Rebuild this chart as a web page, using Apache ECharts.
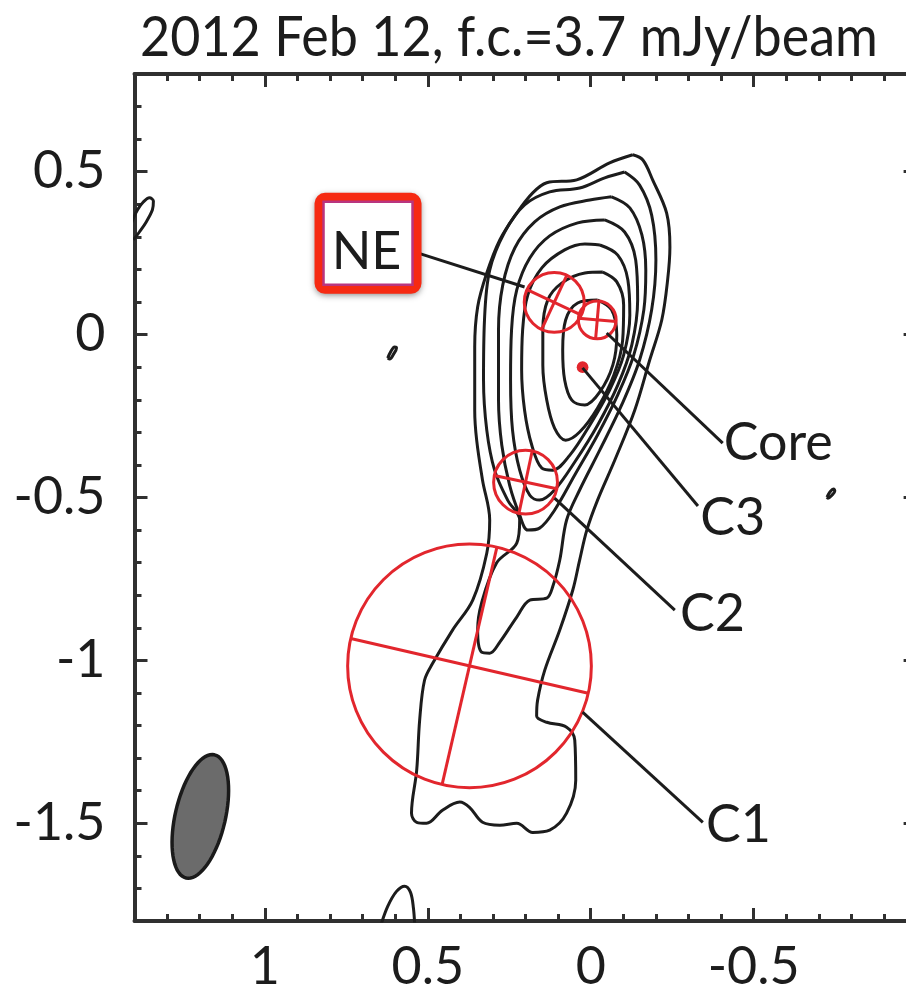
<!DOCTYPE html>
<html>
<head>
<meta charset="utf-8">
<script src="https://cdn.jsdelivr.net/npm/echarts@6/dist/echarts.min.js"></script>
<style>
html, body { margin: 0; padding: 0; background: #fff; }
#chart { width: 906px; height: 990px; }
</style>
</head>
<body>
<div id="chart"></div>
<script>
// axis ticks (relative RA / Dec offsets, mas)
var xTicks = [-1.0, -0.9, -0.8, -0.7, -0.6, -0.5, -0.4, -0.3, -0.2, -0.1, 0, 0.1, 0.2, 0.3, 0.4, 0.5, 0.6, 0.7, 0.8, 0.9, 1.0, 1.1, 1.2, 1.3, 1.4];
var xMajor = [-1.0, -0.5, 0, 0.5, 1.0];
var xLabels = [1, 0.5, 0, -0.5];
var yTicks = [-1.8, -1.7, -1.6, -1.5, -1.4, -1.3, -1.2, -1.1, -1.0, -0.9, -0.8, -0.7, -0.6, -0.5, -0.4, -0.3, -0.2, -0.1, 0, 0.1, 0.2, 0.3, 0.4, 0.5, 0.6, 0.7, 0.8];
var yMajor = [-1.5, -1.0, -0.5, 0, 0.5];
var yLabels = [0.5, 0, -0.5, -1, -1.5];

// contour levels, outermost first
var contourL1 = [[-0.129,0.552],[-0.160,0.536],[-0.190,0.475],[-0.233,0.373],[-0.243,0.269],[-0.236,0.168],[-0.218,0.045],[-0.181,-0.078],[-0.135,-0.232],[-0.074,-0.385],[-0.021,-0.508],[0.012,-0.600],[0.034,-0.692],[0.055,-0.784],[0.095,-0.907],[0.141,-1.030],[0.163,-1.122],[0.166,-1.171],[0.135,-1.190],[0.074,-1.205],[0.049,-1.245],[0.046,-1.368],[0.074,-1.469],[0.126,-1.521],[0.178,-1.528],[0.227,-1.500],[0.279,-1.506],[0.332,-1.497],[0.372,-1.451],[0.402,-1.435],[0.455,-1.460],[0.504,-1.500],[0.534,-1.497],[0.550,-1.469],[0.534,-1.337],[0.525,-1.184],[0.510,-1.061],[0.485,-1.009],[0.424,-0.907],[0.362,-0.815],[0.319,-0.671],[0.310,-0.569],[0.332,-0.447],[0.350,-0.324],[0.356,-0.232],[0.356,-0.038],[0.347,0.085],[0.319,0.189],[0.279,0.291],[0.227,0.373],[0.178,0.435],[0.135,0.466],[0.043,0.475],[-0.058,0.527],[-0.129,0.552]];
var contourL2 = [[-0.104,0.499],[-0.150,0.459],[-0.187,0.367],[-0.200,0.229],[-0.187,0.076],[-0.150,-0.078],[-0.095,-0.216],[-0.028,-0.354],[0.034,-0.477],[0.074,-0.569],[0.095,-0.692],[0.117,-0.775],[0.135,-0.809],[0.187,-0.815],[0.227,-0.867],[0.279,-0.944],[0.310,-0.978],[0.335,-0.975],[0.347,-0.907],[0.335,-0.824],[0.289,-0.701],[0.227,-0.640],[0.218,-0.569],[0.255,-0.508],[0.295,-0.416],[0.319,-0.293],[0.329,-0.139],[0.326,0.045],[0.310,0.198],[0.264,0.315],[0.203,0.398],[0.126,0.438],[0.034,0.450],[-0.043,0.481],[-0.104,0.499]];
var contourL3 = [[-0.064,0.423],[-0.120,0.389],[-0.157,0.306],[-0.169,0.198],[-0.163,0.076],[-0.132,-0.063],[-0.083,-0.185],[-0.021,-0.308],[0.049,-0.431],[0.111,-0.539],[0.157,-0.594],[0.193,-0.600],[0.218,-0.554],[0.249,-0.462],[0.273,-0.339],[0.283,-0.201],[0.283,0.014],[0.270,0.152],[0.233,0.266],[0.172,0.346],[0.095,0.392],[0.003,0.413],[-0.064,0.423]];
var contourL4 = [[-0.043,0.352],[-0.104,0.315],[-0.138,0.229],[-0.144,0.106],[-0.126,-0.032],[-0.083,-0.155],[-0.021,-0.278],[0.049,-0.391],[0.111,-0.477],[0.157,-0.508],[0.187,-0.493],[0.218,-0.416],[0.240,-0.293],[0.246,-0.139],[0.243,0.014],[0.227,0.137],[0.187,0.235],[0.126,0.303],[0.040,0.343],[-0.043,0.352]];
var contourL5 = [[-0.028,0.275],[-0.083,0.244],[-0.114,0.168],[-0.120,0.060],[-0.101,-0.063],[-0.058,-0.170],[0.003,-0.278],[0.064,-0.370],[0.117,-0.416],[0.150,-0.410],[0.181,-0.339],[0.203,-0.232],[0.212,-0.109],[0.209,0.014],[0.193,0.122],[0.150,0.205],[0.080,0.260],[0.018,0.278],[-0.028,0.275]];
var contourL6 = [[-0.037,0.192],[-0.080,0.162],[-0.101,0.091],[-0.098,-0.017],[-0.071,-0.124],[-0.021,-0.225],[0.034,-0.299],[0.077,-0.324],[0.111,-0.287],[0.135,-0.201],[0.147,-0.093],[0.147,0.014],[0.132,0.106],[0.089,0.158],[0.018,0.189],[-0.037,0.192]];
var contourL7 = [[-0.021,0.106],[-0.064,0.076],[-0.080,-0.001],[-0.068,-0.093],[-0.028,-0.176],[0.018,-0.216],[0.058,-0.201],[0.080,-0.139],[0.086,-0.047],[0.077,0.045],[0.040,0.097],[-0.021,0.106]];
var islandW = [[1.403,0.291],[1.385,0.315],[1.364,0.346],[1.345,0.383],[1.342,0.410],[1.354,0.420],[1.373,0.407],[1.391,0.383],[1.403,0.358],[1.413,0.334]];
var islandMid = [[0.623,-0.072],[0.614,-0.053],[0.602,-0.038],[0.596,-0.041],[0.605,-0.060],[0.617,-0.075],[0.623,-0.072]];
var islandE = [[-0.725,-0.499],[-0.734,-0.483],[-0.746,-0.474],[-0.749,-0.480],[-0.740,-0.493],[-0.728,-0.502],[-0.725,-0.499]];
var islandS = [[0.645,-1.816],[0.623,-1.755],[0.596,-1.709],[0.571,-1.693],[0.553,-1.712],[0.544,-1.761],[0.540,-1.816]];
var contours = [contourL1, contourL2, contourL3, contourL4, contourL5, contourL6, contourL7, islandW, islandMid, islandE, islandS];

// model-fit components: x, y, radius, position angle (deg), filled
var compNames = ['Core', 'NE', 'C3', 'C2', 'C1'];
var compX = [-0.020, 0.112, 0.025, 0.200, 0.372];
var compY = [0.045, 0.099, -0.100, -0.453, -1.017];
var compR = [0.058, 0.092, 0.018, 0.098, 0.374];
var compPA = [-5, -25, 0, -12, -13];
var compFilled = [0, 0, 1, 0, 0];

// labels and their leader lines
var labelText = ['NE', 'Core', 'C3', 'C2', 'C1'];
var leaderFrom = [[0.203, 0.146], [-0.049, 0.005], [0.025, -0.102], [0.111, -0.502], [0.025, -1.159]];
var leaderTo = [[0.522, 0.248], [-0.405, -0.333], [-0.329, -0.526], [-0.258, -0.846], [-0.344, -1.497]];
var labelAt = [[0.688, 0.254], [-0.408, -0.333], [-0.336, -0.563], [-0.274, -0.858], [-0.354, -1.506]];

// restoring beam: centre, semi-major, semi-minor, PA (deg)
var beam = [1.198, -1.479, 0.194, 0.077, -13];

var RED = '#e2262d';
var INK = '#1c1c1c';
var AXIS = '#303030';
var FONT = 'Lato';
var FS = 52;

function fmt(v) { return v === 0 ? '0' : String(v); }

function xAxisDef(pos, ticks, len, labels) {
  return {
    type: 'value', position: pos, inverse: true, min: -1.0, max: 1.4,
    axisLine: { show: len < 10, onZero: false, lineStyle: { color: AXIS, width: 4 } },
    axisTick: { show: true, inside: true, length: len, customValues: ticks, lineStyle: { color: AXIS, width: 3 } },
    axisLabel: labels ? { show: true, customValues: labels, formatter: fmt, margin: 20, fontSize: FS, fontFamily: FONT, color: INK } : { show: false },
    splitLine: { show: false }
  };
}
function yAxisDef(pos, ticks, len, labels) {
  return {
    type: 'value', position: pos, min: -1.8, max: 0.8,
    axisLine: { show: len < 10, onZero: false, lineStyle: { color: AXIS, width: 4 } },
    axisTick: { show: true, inside: true, length: len, customValues: ticks, lineStyle: { color: AXIS, width: 3 } },
    axisLabel: labels ? { show: true, customValues: labels, formatter: fmt, margin: 29, fontSize: FS, fontFamily: FONT, color: INK } : { show: false },
    splitLine: { show: false }
  };
}

var series = contours.map(function (c) {
  return {
    type: 'line', data: c, xAxisIndex: 0, yAxisIndex: 0,
    showSymbol: false, symbol: 'none', smooth: 0.35, silent: true, z: 3,
    lineStyle: { color: INK, width: 3 }
  };
});

var beamData = [beam];
series.push({
  type: 'custom', xAxisIndex: 0, yAxisIndex: 0, silent: true, z: 4,
  data: beamData,
  renderItem: function (params, api) {
    var cx = api.value(0), cy = api.value(1), a = api.value(2), b = api.value(3);
    var pa = api.value(4) * Math.PI / 180;
    var pts = [];
    for (var k = 0; k < 72; k++) {
      var t = k / 72 * 2 * Math.PI;
      var u = a * Math.cos(t), w = b * Math.sin(t);
      pts.push(api.coord([cx + u * Math.sin(pa) + w * Math.cos(pa), cy + u * Math.cos(pa) - w * Math.sin(pa)]));
    }
    return { type: 'polygon', shape: { points: pts }, style: { fill: '#6b6b6b', stroke: '#1a1a1a', lineWidth: 3.5 } };
  }
});

var compData = compX.map(function (x, i) { return [x, compY[i], compR[i], compPA[i], compFilled[i]]; });
series.push({
  type: 'custom', xAxisIndex: 0, yAxisIndex: 0, silent: true, z: 6,
  data: compData,
  renderItem: function (params, api) {
    var x = api.value(0), y = api.value(1), r = api.value(2);
    var pa = api.value(3) * Math.PI / 180, solid = api.value(4);
    var c = api.coord([x, y]);
    var sz = api.size([r, r]);
    var rad = (sz[0] + sz[1]) / 2;
    var kids = [{
      type: 'circle', shape: { cx: c[0], cy: c[1], r: rad },
      style: solid ? { fill: RED } : { fill: 'none', stroke: RED, lineWidth: 3 }
    }];
    if (!solid) {
      [[Math.sin(pa) * r, Math.cos(pa) * r], [Math.cos(pa) * r, -Math.sin(pa) * r]].forEach(function (d) {
        var p1 = api.coord([x + d[0], y + d[1]]);
        var p2 = api.coord([x - d[0], y - d[1]]);
        kids.push({ type: 'line', shape: { x1: p1[0], y1: p1[1], x2: p2[0], y2: p2[1] }, style: { stroke: RED, lineWidth: 3 } });
      });
    }
    return { type: 'group', children: kids };
  }
});

var leaderData = labelText.map(function (t, i) {
  return [leaderFrom[i][0], leaderFrom[i][1], leaderTo[i][0], leaderTo[i][1], labelAt[i][0], labelAt[i][1]];
});
series.push({
  type: 'custom', xAxisIndex: 0, yAxisIndex: 0, silent: true, z: 8,
  data: leaderData,
  renderItem: function (params, api) {
    var i = params.dataIndex;
    var p0 = api.coord([api.value(0), api.value(1)]);
    var p1 = api.coord([api.value(2), api.value(3)]);
    var lp = api.coord([api.value(4), api.value(5)]);
    var kids = [{ type: 'line', shape: { x1: p0[0], y1: p0[1], x2: p1[0], y2: p1[1] }, style: { stroke: INK, lineWidth: 3 } }];
    if (labelText[i] === 'NE') {
      kids.push({ type: 'rect', shape: { x: lp[0] - 47.5, y: lp[1] - 54.5, width: 98, height: 92, r: 6 },
        style: { fill: '#fff', stroke: '#f62a12', lineWidth: 9, shadowBlur: 6, shadowColor: 'rgba(0,0,0,0.35)', shadowOffsetY: 2 } });
      kids.push({ type: 'rect', shape: { x: lp[0] - 43, y: lp[1] - 50, width: 89, height: 83 },
        style: { fill: '#fff', stroke: '#b9357f', lineWidth: 2.5 } });
      kids.push({ type: 'text', x: lp[0], y: lp[1],
        style: { text: 'NE', font: FS + 'px ' + FONT, fill: INK, align: 'center', verticalAlign: 'middle' } });
    } else {
      kids.push({ type: 'text', x: lp[0], y: lp[1],
        style: { text: labelText[i], font: FS + 'px ' + FONT, fill: INK, align: 'left', verticalAlign: 'middle' } });
    }
    return { type: 'group', children: kids };
  }
});

var chart = echarts.init(document.getElementById('chart'), null, { renderer: 'canvas' });
chart.setOption({
  animation: false,
  backgroundColor: '#ffffff',
  graphic: [{
    type: 'text', x: 140, y: 38, scaleX: 0.93, z: 10,
    style: { text: '2012 Feb 12, f.c.=3.7 mJy/beam', font: '56px ' + FONT, fill: INK, align: 'left', verticalAlign: 'middle' }
  }],
  grid: { left: 134.5, right: -10.6, top: 74, bottom: 69, containLabel: false, outerBoundsMode: 'none' },
  xAxis: [
    xAxisDef('bottom', xTicks, 7, xLabels),
    xAxisDef('bottom', xMajor, 13, null),
    xAxisDef('top', xTicks, 7, null),
    xAxisDef('top', xMajor, 13, null)
  ],
  yAxis: [
    yAxisDef('left', yTicks, 7, yLabels),
    yAxisDef('left', yMajor, 13, null),
    yAxisDef('right', yTicks, 7, null),
    yAxisDef('right', yMajor, 13, null)
  ],
  series: series
});
</script>
</body>
</html>
